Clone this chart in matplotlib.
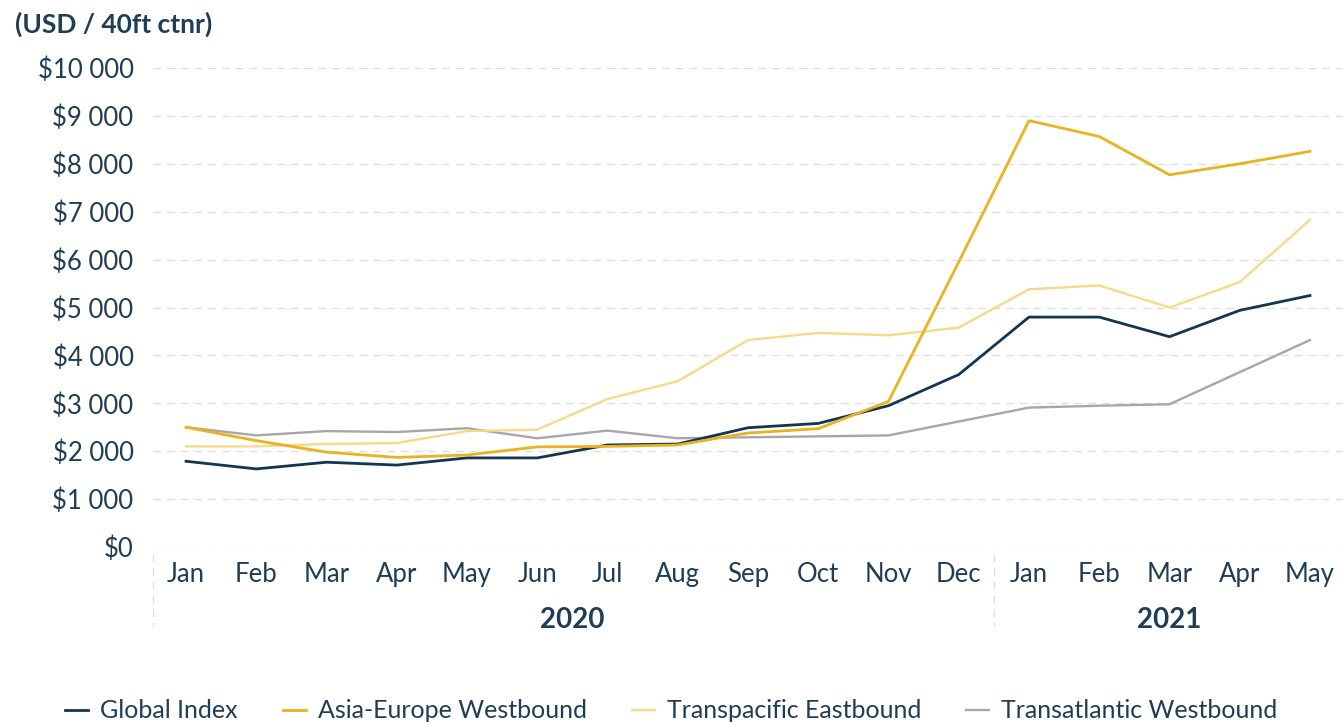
import matplotlib.pyplot as plt
import matplotlib.transforms as mtransforms
import numpy as np

plt.rcParams['font.family'] = ['Lato', 'DejaVu Sans']

months = ['Jan', 'Feb', 'Mar', 'Apr', 'May', 'Jun', 'Jul', 'Aug', 'Sep', 'Oct',
          'Nov', 'Dec', 'Jan', 'Feb', 'Mar', 'Apr', 'May']
years = ['2020', '2021']
year_spans = [(0, 11), (12, 16)]

global_index = [1790, 1630, 1770, 1710, 1860, 1860, 2130, 2150, 2490, 2580,
                2950, 3600, 4800, 4800, 4390, 4940, 5250]
asia_europe = [2500, 2220, 1980, 1870, 1920, 2090, 2100, 2130, 2380, 2470,
               3040, 5950, 8900, 8570, 7770, 8000, 8260]
transpacific = [2100, 2100, 2150, 2170, 2420, 2450, 3090, 3460, 4320, 4470,
                4420, 4580, 5380, 5460, 5000, 5530, 6830]
transatlantic = [2500, 2330, 2420, 2400, 2480, 2270, 2430, 2270, 2290, 2310,
                 2330, 2620, 2910, 2950, 2980, 3650, 4320]

navy = '#123652'
text_col = '#1f3d57'
grid_col = '#dcdcdc'

fig = plt.figure(figsize=(13.43, 7.25), dpi=100)
ax = fig.add_axes([153 / 1343, 1 - 547 / 725, 1 - 153 / 1343, (547 - 68) / 725])

x = np.arange(len(months))
ax.plot(x, transatlantic, color='#a7a7ab', lw=1.7, label='Transatlantic Westbound', zorder=2)
ax.plot(x, transpacific, color='#f6d98a', lw=1.7, label='Transpacific Eastbound', zorder=3)
ax.plot(x, global_index, color=navy, lw=2.0, label='Global Index', zorder=4)
ax.plot(x, asia_europe, color='#e9b320', lw=2.0, label='Asia-Europe Westbound', zorder=5)

ax.set_xlim(-0.47, 16.47)
ax.set_ylim(0, 10000)
yt = np.arange(0, 10001, 1000)
ax.set_yticks(yt)
ax.set_yticklabels(['$' + f'{v:,}'.replace(',', ' ') for v in yt])
ax.set_xticks(x)
ax.set_xticklabels(months)
ax.tick_params(axis='both', length=0, labelsize=18.5, colors=text_col)
ax.tick_params(axis='x', pad=11)
ax.tick_params(axis='y', pad=14)
ax.yaxis.grid(True, color=grid_col, ls=(0, (6, 5)), lw=0.9)
ax.set_axisbelow(True)
for s in ax.spines.values():
    s.set_visible(False)

# year grouping under the month labels
trans = mtransforms.blended_transform_factory(ax.transData, ax.transAxes)
for label, (a, b) in zip(years, year_spans):
    ax.text((a + b) / 2, -0.152, label, transform=trans, ha='center', va='center',
            fontsize=20, fontweight='bold', color=text_col)
for xs in [-0.47, 11.5]:
    ax.plot([xs, xs], [-0.015, -0.165], transform=trans, color=grid_col,
            ls=(0, (6, 5)), lw=0.9, clip_on=False)

fig.text(15 / 1343, 1 - 24 / 725, '(USD / 40ft ctnr)', fontsize=19, fontweight='bold',
         color=text_col, ha='left', va='center')

handles, labels = ax.get_legend_handles_labels()
order = [2, 3, 1, 0]
fig.legend([handles[i] for i in order], [labels[i] for i in order],
           loc='center', bbox_to_anchor=(0.5, 1 - 711 / 725), ncol=4, frameon=False,
           fontsize=18, labelcolor=text_col, handlelength=0.9, handletextpad=0.5,
           columnspacing=1.8)

fig.savefig('out.png', dpi=100)
